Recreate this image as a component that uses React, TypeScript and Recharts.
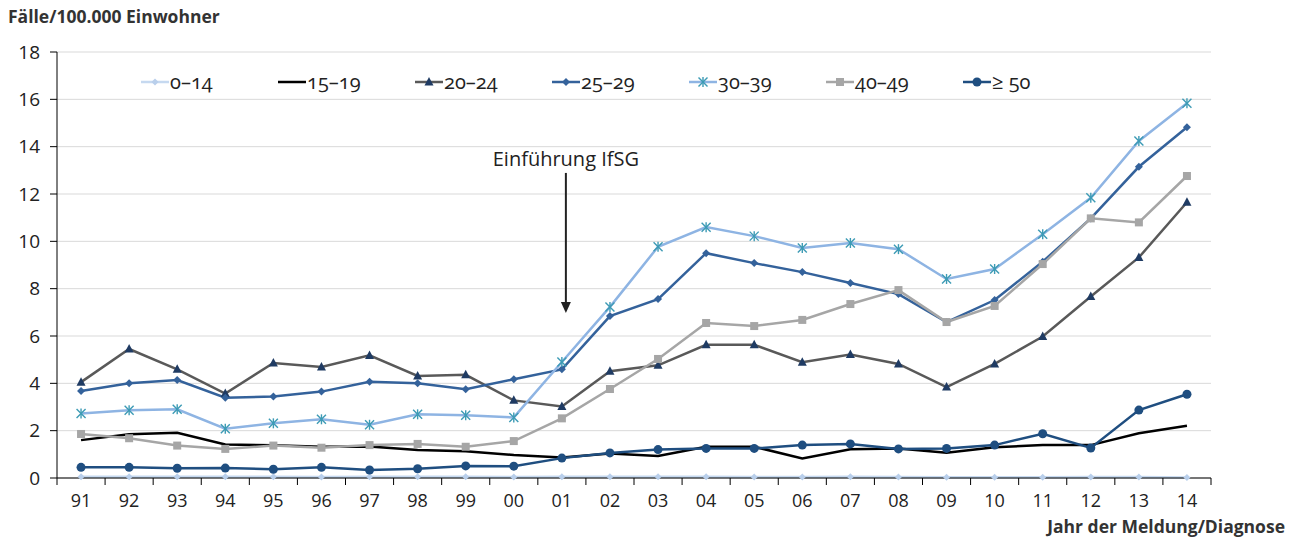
import { LineChart, Line, XAxis, YAxis, CartesianGrid, ReferenceLine } from 'recharts'

const years = ['91', '92', '93', '94', '95', '96', '97', '98', '99', '00', '01', '02', '03', '04', '05', '06', '07', '08', '09', '10', '11', '12', '13', '14']

const age0to14 = [0.05, 0.05, 0.05, 0.05, 0.05, 0.04, 0.05, 0.05, 0.05, 0.04, 0.05, 0.05, 0.05, 0.05, 0.04, 0.04, 0.05, 0.04, 0.03, 0.03, 0.03, 0.04, 0.04, 0.02]
const age15to19 = [1.6, 1.85, 1.91, 1.42, 1.38, 1.32, 1.33, 1.18, 1.13, 0.97, 0.87, 1.04, 0.93, 1.32, 1.32, 0.83, 1.21, 1.25, 1.07, 1.3, 1.39, 1.39, 1.89, 2.21]
const age20to24 = [4.05, 5.45, 4.59, 3.57, 4.86, 4.69, 5.18, 4.31, 4.36, 3.28, 3.02, 4.51, 4.76, 5.63, 5.63, 4.89, 5.22, 4.82, 3.84, 4.82, 5.98, 7.67, 9.32, 11.65]
const age25to29 = [3.68, 4.0, 4.14, 3.39, 3.44, 3.65, 4.07, 4.0, 3.75, 4.17, 4.59, 6.84, 7.56, 9.5, 9.08, 8.7, 8.24, 7.77, 6.59, 7.52, 9.14, 10.97, 13.15, 14.82]
const age30to39 = [2.73, 2.86, 2.9, 2.08, 2.31, 2.48, 2.25, 2.69, 2.65, 2.56, 4.9, 7.23, 9.77, 10.6, 10.22, 9.72, 9.93, 9.67, 8.41, 8.83, 10.3, 11.84, 14.24, 15.83]
const age40to49 = [1.86, 1.68, 1.37, 1.23, 1.37, 1.28, 1.39, 1.44, 1.32, 1.56, 2.52, 3.76, 5.03, 6.55, 6.42, 6.68, 7.35, 7.94, 6.59, 7.27, 9.04, 10.97, 10.8, 12.76]
const age50plus = [0.45, 0.45, 0.41, 0.42, 0.37, 0.45, 0.34, 0.39, 0.51, 0.5, 0.84, 1.06, 1.2, 1.25, 1.25, 1.39, 1.44, 1.23, 1.25, 1.39, 1.87, 1.27, 2.87, 3.54]

const yTicks = [0, 2, 4, 6, 8, 10, 12, 14, 16, 18]

const W = 1296
const H = 540
const PLOT_LEFT = 57
const PLOT_RIGHT = 1211
const STEP = (PLOT_RIGHT - PLOT_LEFT) / years.length
const FONT = '"Open Sans", "DejaVu Sans", sans-serif'

type MarkerKind = 'smallDiamond' | 'none' | 'triangle' | 'diamond' | 'star' | 'square' | 'circle'

interface SeriesDef {
	key: string
	name: string
	values: number[]
	stroke: string
	marker: MarkerKind
	markerColor: string
}

const series: SeriesDef[] = [
	{ key: 'a0', name: '0–14', values: age0to14, stroke: '#c6d9f0', marker: 'smallDiamond', markerColor: '#b9cfeb' },
	{ key: 'a15', name: '15–19', values: age15to19, stroke: '#000000', marker: 'none', markerColor: '#000000' },
	{ key: 'a20', name: '20–24', values: age20to24, stroke: '#595959', marker: 'triangle', markerColor: '#1f3b63' },
	{ key: 'a25', name: '25–29', values: age25to29, stroke: '#34629b', marker: 'diamond', markerColor: '#34629b' },
	{ key: 'a30', name: '30–39', values: age30to39, stroke: '#8eb4e3', marker: 'star', markerColor: '#3d9bb5' },
	{ key: 'a40', name: '40–49', values: age40to49, stroke: '#a6a6a6', marker: 'square', markerColor: '#a6a6a6' },
	{ key: 'a50', name: '≥ 50', values: age50plus, stroke: '#1f4e80', marker: 'circle', markerColor: '#1f4e80' },
]

const data = years.map((year, i) => {
	const row: Record<string, string | number> = { year }
	series.forEach((s) => {
		row[s.key] = s.values[i]
	})
	return row
})

function markerShape(kind: MarkerKind, cx: number, cy: number, color: string, k?: string) {
	switch (kind) {
		case 'smallDiamond':
			return <polygon key={k} points={`${cx},${cy - 3.5} ${cx + 3.5},${cy} ${cx},${cy + 3.5} ${cx - 3.5},${cy}`} fill={color} />
		case 'triangle':
			return <polygon key={k} points={`${cx},${cy - 5} ${cx + 4.5},${cy + 3.5} ${cx - 4.5},${cy + 3.5}`} fill={color} />
		case 'diamond':
			return <polygon key={k} points={`${cx},${cy - 4} ${cx + 4},${cy} ${cx},${cy + 4} ${cx - 4},${cy}`} fill={color} />
		case 'star':
			return (
				<g key={k} stroke={color} strokeWidth={1.4}>
					<line x1={cx - 4.5} y1={cy - 4.5} x2={cx + 4.5} y2={cy + 4.5} />
					<line x1={cx - 4.5} y1={cy + 4.5} x2={cx + 4.5} y2={cy - 4.5} />
					<line x1={cx} y1={cy - 5} x2={cx} y2={cy + 5} />
				</g>
			)
		case 'square':
			return <rect key={k} x={cx - 4} y={cy - 4} width={8} height={8} fill={color} />
		case 'circle':
			return <circle key={k} cx={cx} cy={cy} r={4.5} fill={color} />
		default:
			return <g key={k} />
	}
}

const makeDot = (s: SeriesDef) => (props: any) => {
	const { cx, cy, index } = props
	if (cx == null || cy == null) return <g key={`${s.key}-${index}`} />
	return markerShape(s.marker, cx, cy, s.markerColor, `${s.key}-${index}`)
}

const XTick = (props: any) => {
	const { x, y, payload, index } = props
	const left = x - STEP / 2
	return (
		<g>
			<line x1={left} y1={y} x2={left} y2={y + 7} stroke="#000" strokeWidth={1} />
			{index === years.length - 1 && (
				<line x1={x + STEP / 2} y1={y} x2={x + STEP / 2} y2={y + 7} stroke="#000" strokeWidth={1} />
			)}
			<text x={x} y={y + 29} textAnchor="middle" fontSize={18} fill="#222" fontFamily={FONT}>
				{payload.value}
			</text>
		</g>
	)
}

const ArrowShape = (props: any) => {
	const { x1, y1, x2, y2 } = props
	const ax = x1 + 4
	return (
		<g>
			<text x={ax} y={y1 - 7} textAnchor="middle" fontSize={20} fill="#222" fontFamily={FONT}>
				Einführung IfSG
			</text>
			<line x1={ax} y1={y1} x2={x2 + 4} y2={y2 - 9} stroke="#222" strokeWidth={2} />
			<polygon points={`${ax - 5},${y2 - 11} ${ax + 5},${y2 - 11} ${ax},${y2}`} fill="#222" />
		</g>
	)
}

function LegendBox() {
	return (
		<div
			style={{
				position: 'absolute',
				left: 140,
				top: 68,
				display: 'flex',
				fontFamily: FONT,
				fontSize: 20,
				color: '#222',
				fontVariantNumeric: 'oldstyle-nums',
			}}
		>
			{series.map((s) => (
				<div key={s.key} style={{ width: 137, display: 'flex', alignItems: 'center' }}>
					<svg width={30} height={14}>
						<line x1={1} y1={7} x2={29} y2={7} stroke={s.stroke} strokeWidth={2.5} />
						{markerShape(s.marker, 15, 7, s.markerColor)}
					</svg>
					<span>{s.name}</span>
				</div>
			))}
		</div>
	)
}

export default function App() {
	return (
		<div style={{ position: 'absolute', left: 0, top: 0, width: W, height: H, background: '#fff' }}>
			<div
				style={{
					position: 'absolute',
					left: 8,
					top: 4,
					fontFamily: FONT,
					fontWeight: 700,
					fontSize: 17.5,
					color: '#333',
				}}
			>
				Fälle/100.000 Einwohner
			</div>
			<LineChart
				width={W}
				height={H}
				data={data}
				margin={{ top: 52, left: 10, right: W - PLOT_RIGHT, bottom: 32 }}
			>
				<CartesianGrid vertical={false} stroke="#d9d9d9" strokeWidth={1} />
				<XAxis
					dataKey="year"
					padding={{ left: STEP / 2, right: STEP / 2 }}
					axisLine={{ stroke: '#000', strokeWidth: 1 }}
					tickLine={false}
					tickSize={0}
					tickMargin={0}
					interval={0}
					height={30}
					tick={<XTick />}
				/>
				<YAxis
					domain={[0, 18]}
					ticks={yTicks}
					width={PLOT_LEFT - 10}
					axisLine={{ stroke: '#000', strokeWidth: 1 }}
					tickLine={{ stroke: '#000' }}
					tickSize={7}
					tickMargin={10}
					interval={0}
					tick={{ fontSize: 19, fill: '#222', fontFamily: FONT }}
				/>
				<ReferenceLine
					segment={[
						{ x: '01', y: 12.89 },
						{ x: '01', y: 6.97 },
					]}
					stroke="#222"
					shape={<ArrowShape />}
				/>
				{series.map((s) => (
					<Line
						key={s.key}
						dataKey={s.key}
						name={s.name}
						type="linear"
						stroke={s.stroke}
						strokeWidth={2.5}
						dot={makeDot(s)}
						activeDot={false}
						isAnimationActive={false}
					/>
				))}
			</LineChart>
			<LegendBox />
			<div
				style={{
					position: 'absolute',
					right: 11,
					top: 514,
					fontFamily: FONT,
					fontWeight: 700,
					fontSize: 17.5,
					color: '#333',
				}}
			>
				Jahr der Meldung/Diagnose
			</div>
		</div>
	)
}
